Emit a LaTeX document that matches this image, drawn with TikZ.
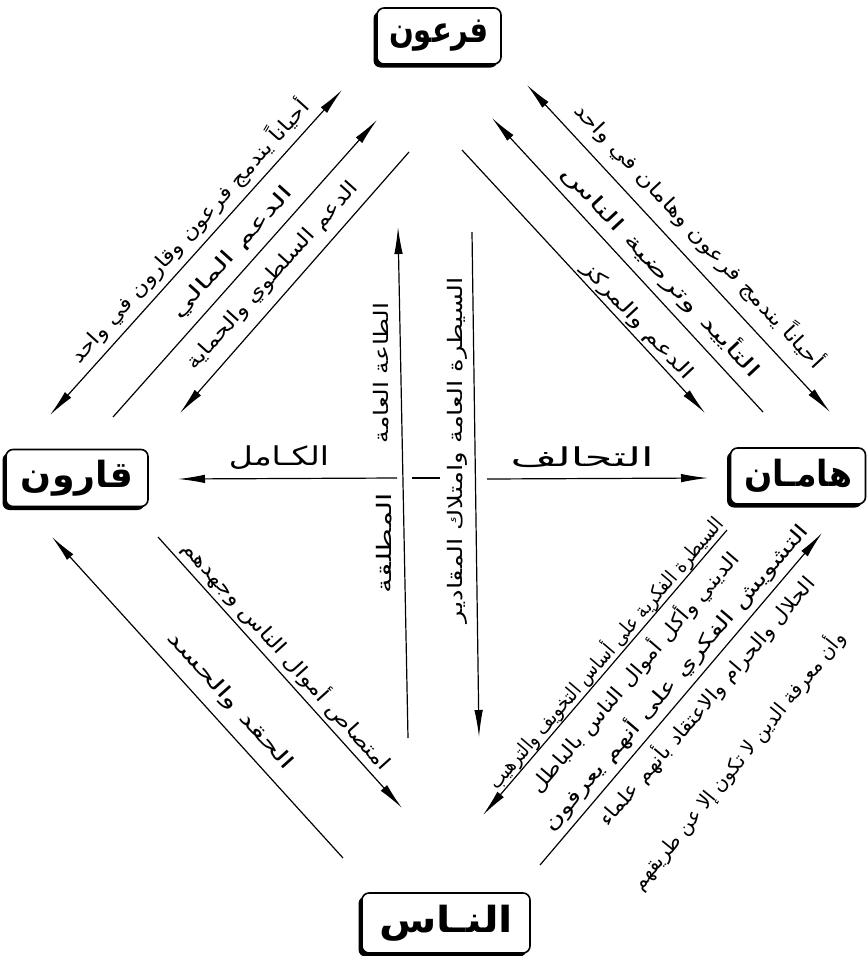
\documentclass[tikz,border=0pt]{standalone}
\usepackage{fontspec}
\usepackage{graphicx}
\newfontfamily\arabicfont[Script=Arabic]{DejaVu Sans}
\TeXXeTstate=1
\usetikzlibrary{arrows.meta,shadows}
\newcommand\fitar[2]{\resizebox{#1pt}{\height}{\arabicfont #2}}
\tikzset{
  actor/.style={draw, line width=1.6pt, rounded corners=7pt, fill=white,
    general shadow={fill=black, shadow xshift=-3.5pt, shadow yshift=-3.5pt},
    inner sep=0pt, font=\fontsize{36}{40}\selectfont\bfseries},
  conn/.style={line width=1.2pt},
  tipend/.style={-{Latex[length=27pt,width=8.5pt]}},
  tipboth/.style={{Latex[length=27pt,width=8.5pt]}-{Latex[length=27pt,width=8.5pt]}},
  lab/.style={inner sep=0pt, font=\fontsize{20}{24}\selectfont},
  big/.style={inner sep=0pt, font=\fontsize{26}{30}\selectfont},
}
\begin{document}
\begin{tikzpicture}[x=1pt,y=-1pt]
\useasboundingbox (0,0) rectangle (867,956);
% actors
\node[actor, minimum width=124pt, minimum height=56pt] (pharaoh) at (439,36) {\fitar{100}{\beginR فرعون\endR}};
\node[actor, minimum width=142pt, minimum height=57pt] (qarun) at (77,478) {\fitar{112}{\beginR قارون\endR}};
\node[actor, minimum width=135pt, minimum height=56pt] (haman) at (798,476) {\fitar{108}{\beginR هامـان\endR}};
\node[actor, minimum width=168pt, minimum height=60pt] (people) at (446,923) {\fitar{134}{\beginR النـاس\endR}};
% endpoints
\coordinate (a1) at (342,90);  \coordinate (a2) at (50,415);
\coordinate (b1) at (377,120); \coordinate (b2) at (113,417);
\coordinate (c1) at (409,152); \coordinate (c2) at (180,413);
\coordinate (d1) at (527,85);  \coordinate (d2) at (830,412);
\coordinate (e1) at (492,118); \coordinate (e2) at (763,412);
\coordinate (f1) at (462,150); \coordinate (f2) at (705,413);
\coordinate (g1) at (52,537);  \coordinate (g2) at (343,858);
\coordinate (h1) at (158,537); \coordinate (h2) at (402,808);
\coordinate (i1) at (727,530); \coordinate (i2) at (483,815);
\coordinate (j1) at (822,533); \coordinate (j2) at (540,865);
\coordinate (v1t) at (398,227); \coordinate (v1b) at (408,738);
\coordinate (v2t) at (472,232); \coordinate (v2b) at (479,737);
\coordinate (hl1) at (397,478); \coordinate (hl2) at (178,479);
\coordinate (hd1) at (412,478); \coordinate (hd2) at (440,478);
\coordinate (hr1) at (487,479); \coordinate (hr2) at (708,478);
% connectors
\draw[conn, tipboth] (a2) -- (a1);
\draw[conn, tipend] (b2) -- (b1);
\draw[conn, tipend] (c1) -- (c2);
\draw[conn, tipboth] (d1) -- (d2);
\draw[conn, tipend] (e2) -- (e1);
\draw[conn, tipend] (f1) -- (f2);
\draw[conn, tipend] (g2) -- (g1);
\draw[conn, tipend] (h1) -- (h2);
\draw[conn, tipend] (i1) -- (i2);
\draw[conn, tipend] (j2) -- (j1);
\draw[conn, tipend] (v1b) -- (v1t);
\draw[conn, tipend] (v2t) -- (v2b);
\draw[conn, tipend] (hl1) -- (hl2);
\draw[conn] (hd1) -- (hd2);
\draw[conn, tipend] (hr1) -- (hr2);
% labels top-left
\node[lab, rotate=48] (la) at (189,231) {\fitar{346}{\beginR أحياناً يندمج فرعون وقارون في واحد\endR}};
\node[lab, rotate=48] (lb) at (233,253) {\fitar{170}{\beginR الدعم المالي\endR}};
\node[lab, rotate=48] (lc) at (273,276) {\fitar{245}{\beginR الدعم السلطوي والحماية\endR}};
% labels top-right
\node[lab, rotate=-47] (ld) at (700,235) {\fitar{354}{\beginR أحياناً يندمج فرعون وهامان في واحد\endR}};
\node[lab, rotate=-47] (le) at (662,271) {\fitar{281}{\beginR التأييد وترضية الناس\endR}};
\node[lab, rotate=-47] (lf) at (637,321) {\fitar{153}{\beginR الدعم والمركز\endR}};
% labels bottom-left
\node[lab, rotate=-48] (lg) at (230,701) {\fitar{178}{\beginR الحقد والحسد\endR}};
\node[lab, rotate=-48] (lh) at (287,655) {\fitar{300}{\beginR امتصاص أموال الناس وجهدهم\endR}};
% labels bottom-right
\node[lab, rotate=49.5] (li1) at (605,653) {\fitar{350}{\beginR السيطرة الفكرية على أساس التخويف والترهيب\endR}};
\node[lab, rotate=49.5] (li2) at (634,672) {\fitar{309}{\beginR الديني وأكل أموال الناس بالباطل\endR}};
\node[lab, rotate=49.5] (lj1) at (675,677) {\fitar{396}{\beginR التشويش الفكري على أنهم يعرفون\endR}};
\node[lab, rotate=49.5] (lj2) at (706,701) {\fitar{320}{\beginR الحلال والحرام والاعتقاد بأنهم علماء\endR}};
\node[lab, rotate=51] (lj3) at (738,760) {\fitar{325}{\beginR وأن معرفة الدين لا تكون إلا عن طريقهم\endR}};
% vertical labels
\node[lab, rotate=90] (lv1a) at (381,373) {\fitar{140}{\beginR الطاعة العامة\endR}};
\node[lab, rotate=90] (lv1b) at (384,543) {\fitar{100}{\beginR المطلقة\endR}};
\node[lab, rotate=90] (lv2) at (457,450) {\fitar{346}{\beginR السيطرة العامة وامتلاك المقادير\endR}};
% horizontal labels
\node[big] (lk) at (279,458) {\fitar{100}{\beginR الكـامل\endR}};
\node[big] (lt) at (582,457) {\fitar{143}{\beginR التحالف\endR}};
\end{tikzpicture}
\end{document}
